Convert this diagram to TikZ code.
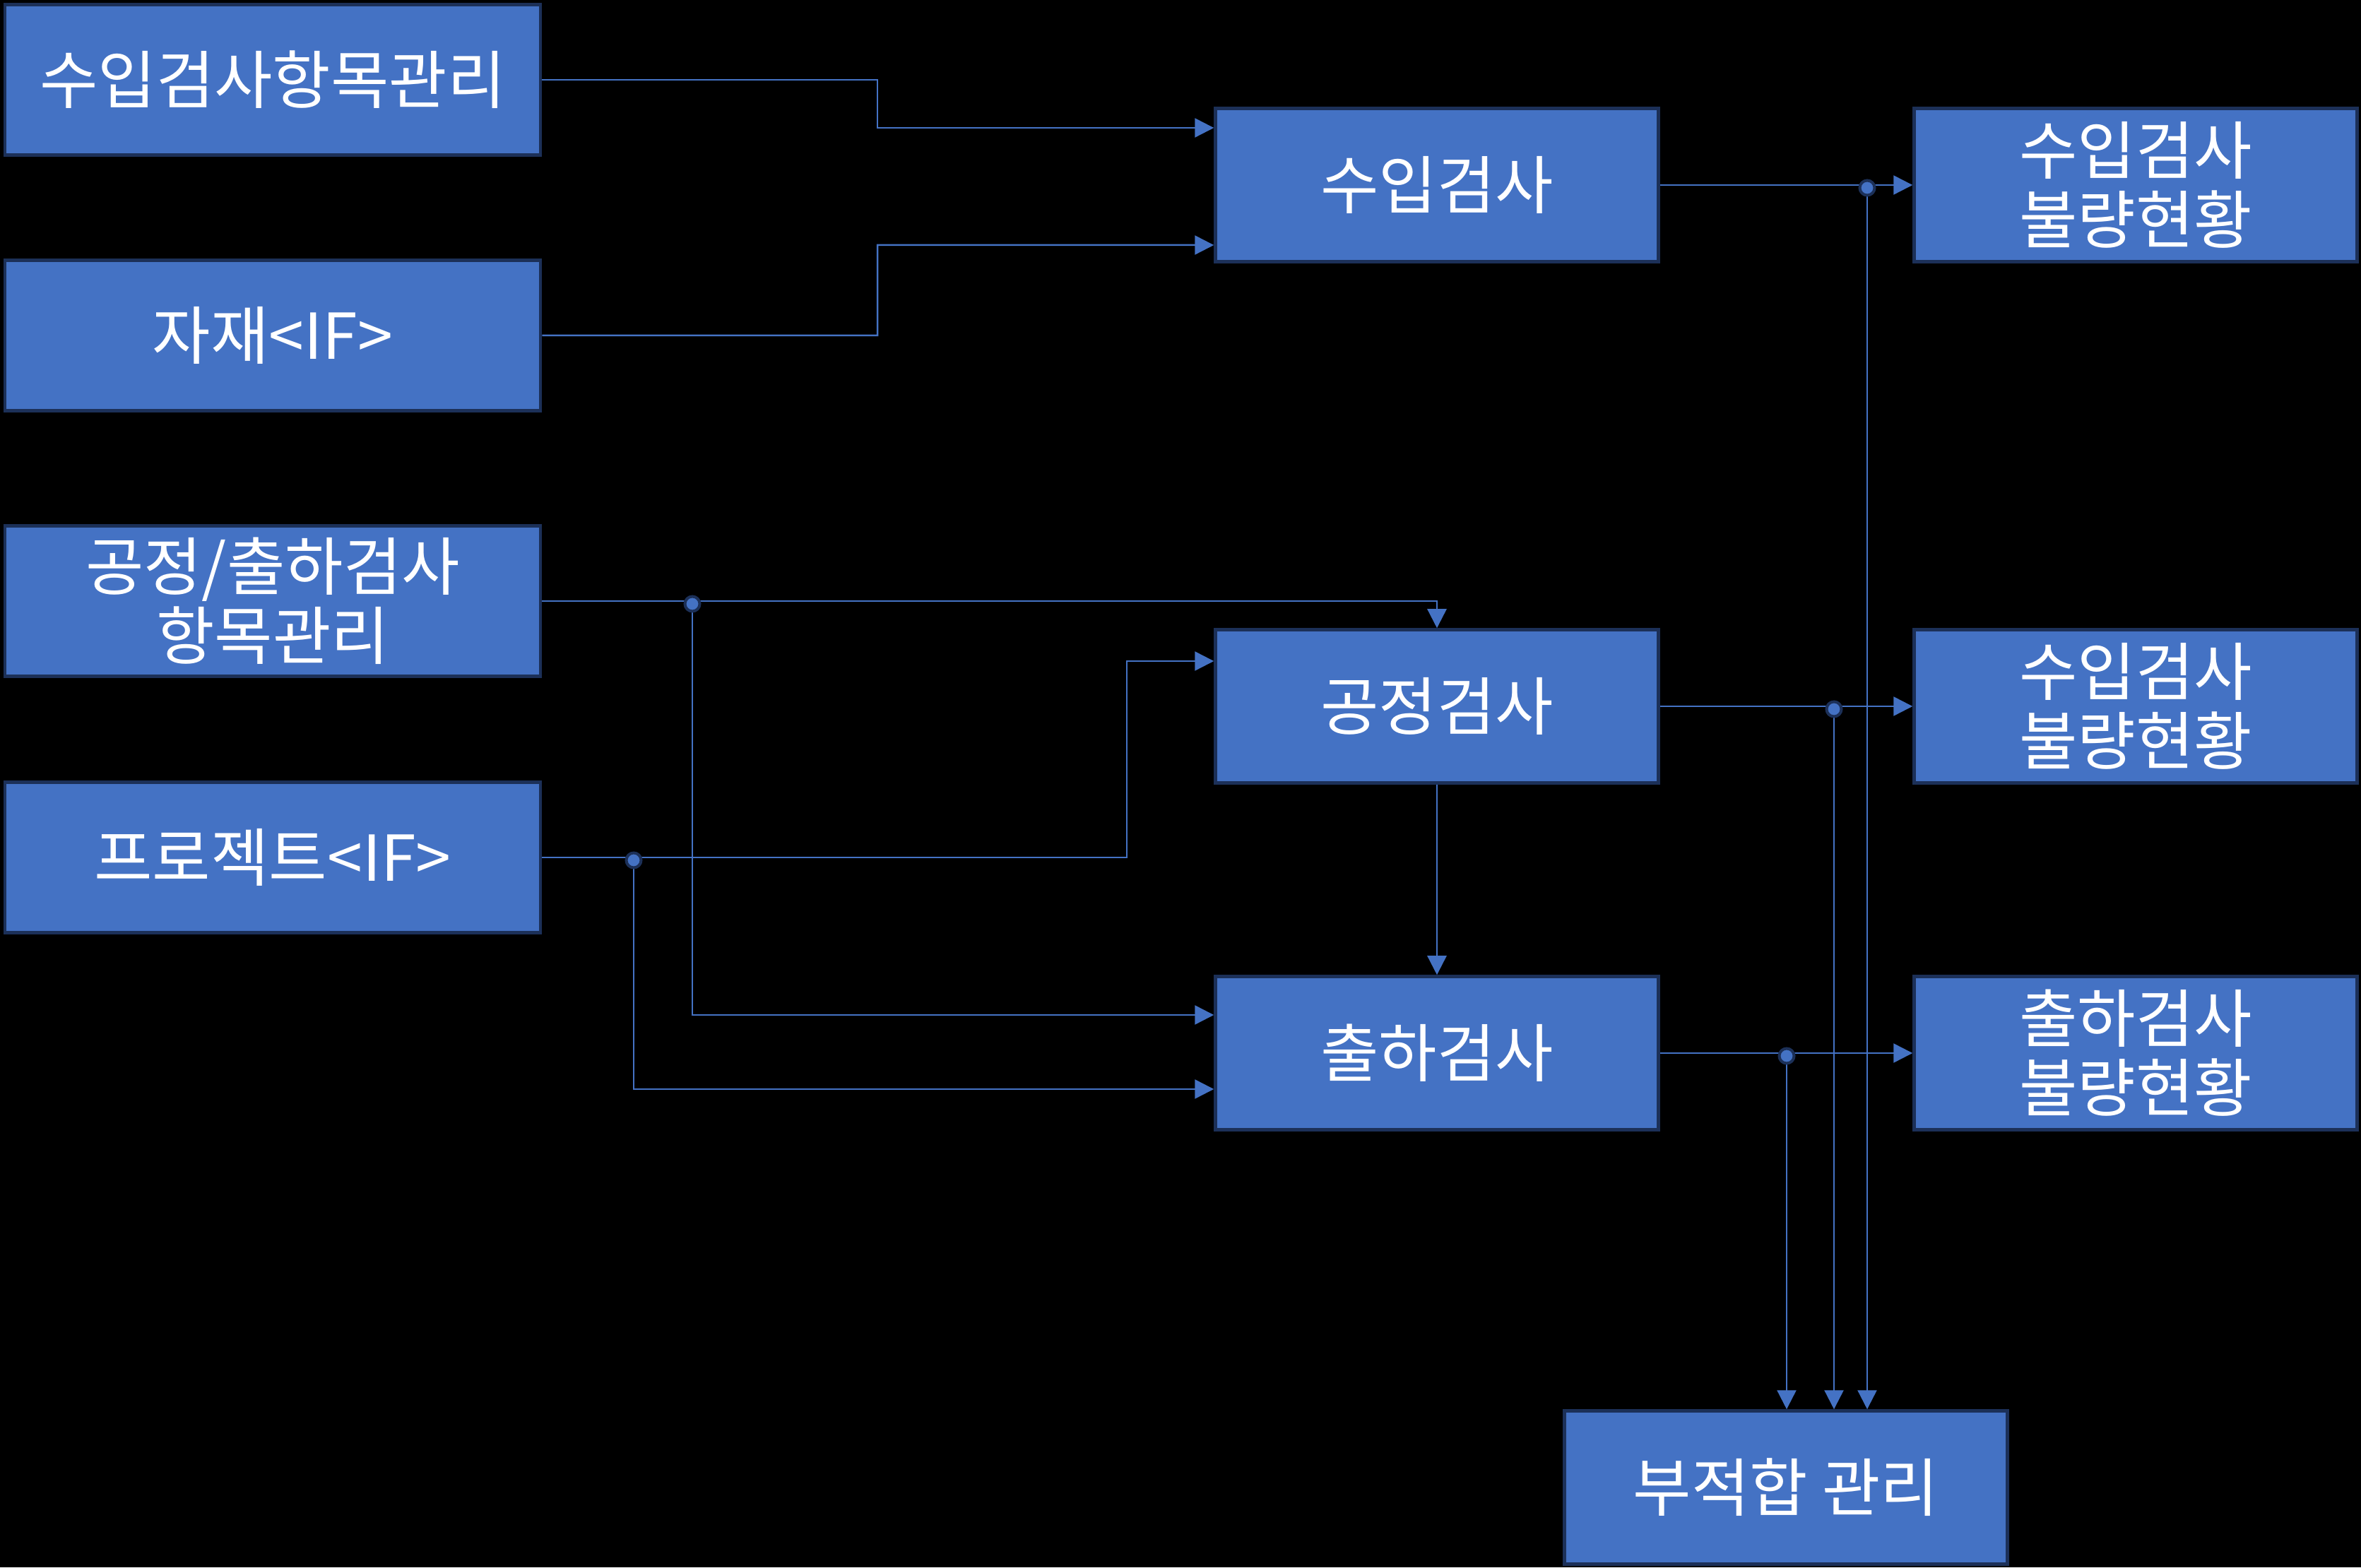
\documentclass[tikz,border=0pt]{standalone}
\usepackage{fontspec}
\usepackage{tikz}
\usetikzlibrary{arrows.meta}
\newfontfamily\krfont{Noto Sans CJK KR}
\definecolor{boxblue}{HTML}{4472C4}
\definecolor{boxedge}{HTML}{1C3058}

\begin{document}
\begin{tikzpicture}[
    box/.style={draw=boxedge,fill=boxblue,line width=0.045cm,text=white,align=center,
        minimum width=6.27cm,minimum height=2.17cm,inner sep=0pt,
        font=\krfont\fontsize{25.5}{27.8}\selectfont},
    wide/.style={box,minimum width=7.58cm,minimum height=2.13cm},
    conn/.style={draw=boxblue,line width=0.025cm,-{Triangle[length=0.27cm,width=0.27cm]}},
    dot/.style={circle,draw=boxedge,fill=boxblue,line width=0.04cm,inner sep=0pt,minimum size=0.21cm}
]
    \useasboundingbox (0,0) rectangle (33.42,22.19);
    \fill [black] (0,0) rectangle (33.42,22.19);

    % items and interfaces
    \node [wide] (iqcitem) at (3.86,21.06) {수입검사항목관리};
    \node [wide] (mat)     at (3.86,17.44) {자재<IF>};
    \node [wide] (pqcitem) at (3.86,13.68) {공정/출하검사\\항목관리};
    \node [wide] (proj)    at (3.86,10.05) {프로젝트<IF>};
    % inspections
    \node [box] (iqc) at (20.34,19.57) {수입검사};
    \node [box] (pqc) at (20.34,12.19) {공정검사};
    \node [box] (oqc) at (20.34,7.28)  {출하검사};
    % defect status
    \node [box] (iqcng) at (30.23,19.57) {수입검사\\불량현황};
    \node [box] (pqcng) at (30.23,12.19) {수입검사\\불량현황};
    \node [box] (oqcng) at (30.23,7.28)  {출하검사\\불량현황};
    \node [box] (nc)    at (25.28,1.13)  {부적합 관리};

    \coordinate (iqcA) at ([yshift=0.81cm]iqc.west);
    \coordinate (iqcB) at ([yshift=-0.85cm]iqc.west);
    \coordinate (pqcB) at ([yshift=0.64cm]pqc.west);
    \coordinate (oqcA) at ([yshift=0.54cm]oqc.west);
    \coordinate (oqcB) at ([yshift=-0.51cm]oqc.west);
    \coordinate (dA) at (9.80,13.68);
    \coordinate (dB) at (8.97,10.05);
    \coordinate (d1) at (26.43,19.57);
    \coordinate (d2) at (25.96,12.19);
    \coordinate (d3) at (25.29,7.28);

    \draw [conn] (iqcitem.east) -| (12.42,20.38) -- (iqcA);
    \draw [conn] (mat.east) -| (12.42,18.72) -- (iqcB);
    \draw [conn] (pqcitem.east) -| (pqc.north);
    \draw [conn] (proj.east) -| (15.95,12.83) -- (pqcB);
    \draw [conn] (pqc.south) -- (oqc.north);
    \draw [conn] (dA) |- (oqcA);
    \draw [conn] (dB) |- (oqcB);

    \foreach \a/\b in {iqc/iqcng,pqc/pqcng,oqc/oqcng}
        \draw [conn] (\a.east) -- (\b.west);
    \foreach \d in {d1,d2,d3}
        \draw [conn] (\d) -- (nc.north -| \d);

    % junctions
    \foreach \d in {dA,dB,d1,d2,d3}
        \node [dot,yshift=-0.04cm] at (\d) {};
\end{tikzpicture}
\end{document}
